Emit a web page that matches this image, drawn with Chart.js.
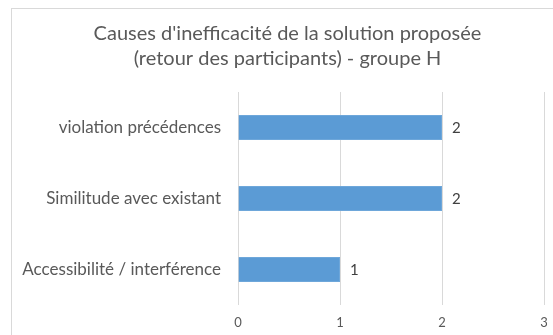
<!DOCTYPE html>
<html>
<head>
<meta charset="utf-8">
<script src="https://cdn.jsdelivr.net/npm/chart.js@4"></script>
<style>
  html, body { margin: 0; padding: 0; background: #fff; overflow: hidden; }
  #wrap { position: absolute; left: 0; top: 0; width: 553px; height: 335px; overflow: hidden; }
</style>
</head>
<body>
<div id="wrap"><canvas id="causesChart" width="590" height="335"></canvas></div>
<script>
const titleLines = ["Causes d'inefficacité de la solution proposée", "(retour des participants) - groupe H"];
const categories = ["violation précédences", "Similitude avec existant", "Accessibilité / interférence"];
const counts = [2, 2, 1];
const xTicks = [0, 1, 2, 3];

const FONT = "Lato, 'Open Sans', sans-serif";
const GREY = "#595959";

// frame around the chart, runs past the right and bottom edges
const framePlugin = {
  id: "frame",
  beforeDraw(chart) {
    const ctx = chart.ctx;
    ctx.save();
    ctx.strokeStyle = "#d9d9d9";
    ctx.lineWidth = 1;
    ctx.strokeRect(11.5, 8.5, 640, 400);
    ctx.restore();
  }
};

// centre the title over the framed area rather than the whole canvas
const titleShift = {
  id: "titleShift",
  afterLayout(chart) {
    if (chart.titleBlock) chart.titleBlock.left = 31;
  }
};

// value written just right of each bar end
const valueLabels = {
  id: "valueLabels",
  afterDatasetsDraw(chart) {
    const ctx = chart.ctx;
    const meta = chart.getDatasetMeta(0);
    ctx.save();
    ctx.font = "15px " + FONT;
    ctx.fillStyle = "#404040";
    ctx.textAlign = "left";
    ctx.textBaseline = "middle";
    meta.data.forEach((bar, i) => {
      ctx.fillText(String(counts[i]), bar.x + 10, bar.y + 1);
    });
    ctx.restore();
  }
};

new Chart(document.getElementById("causesChart"), {
  type: "bar",
  data: {
    labels: categories,
    datasets: [{
      data: counts,
      backgroundColor: "#5b9bd5",
      borderColor: "#6ea7da",
      borderWidth: 1,
      categoryPercentage: 1,
      barPercentage: 0.35
    }]
  },
  options: {
    indexAxis: "y",
    responsive: false,
    animation: false,
    layout: { padding: { left: 0, right: 46, top: 21, bottom: 4 } },
    plugins: {
      legend: { display: false },
      tooltip: { enabled: false },
      title: {
        display: true,
        text: titleLines,
        color: GREY,
        font: { family: FONT, size: 20, weight: "normal", lineHeight: 1.25 },
        padding: { top: 0, bottom: 21 }
      }
    },
    scales: {
      x: {
        min: 0,
        max: 3,
        afterBuildTicks(scale) { scale.ticks = xTicks.map(v => ({ value: v })); },
        afterFit(scale) {
          scale.height = 26;
          scale.paddingRight = 9;
          scale.paddingLeft = 0;
        },
        grid: { color: "#d9d9d9", drawTicks: false },
        border: { display: false },
        ticks: { color: GREY, font: { family: FONT, size: 13 }, padding: 10 }
      },
      y: {
        grid: { display: false, drawTicks: false },
        border: { display: false },
        ticks: { color: GREY, font: { family: FONT, size: 17 }, padding: 17 },
        afterFit(scale) {
          scale.width = 238;
          scale.paddingTop = 0;
          scale.paddingBottom = 0;
        }
      }
    }
  },
  plugins: [framePlugin, titleShift, valueLabels]
});
</script>
</body>
</html>
